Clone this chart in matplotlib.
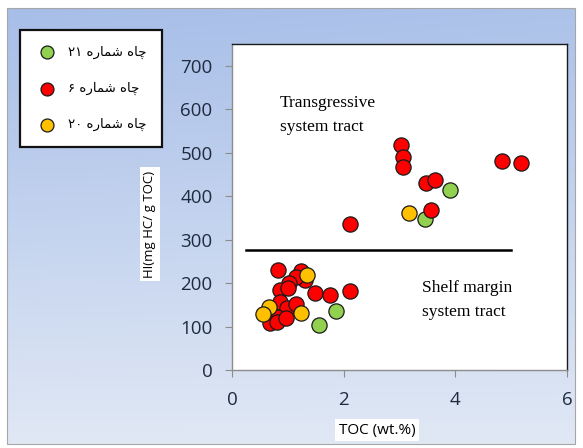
import numpy as np
import matplotlib
matplotlib.use("Agg")
import matplotlib.pyplot as plt
from matplotlib.patches import Rectangle

# ---- data -------------------------------------------------------------
well_names = ["چاه شماره ۲۱", "چاه شماره ۶", "چاه شماره ۲۰"]
well_colors = ["#92d050", "#ff0000", "#ffc000"]

toc_w21 = [3.91, 3.46, 1.86, 1.56]
hi_w21 = [413, 348, 136, 104]

toc_w6 = [3.03, 3.06, 3.07, 3.48, 3.63, 3.57, 2.12, 4.83, 5.18,
          0.82, 1.24, 1.30, 1.14, 1.02, 0.86, 1.01, 1.48, 1.75, 2.11,
          0.86, 0.98, 1.14, 0.80, 0.68, 0.80, 0.96]
hi_w6 = [518, 490, 467, 430, 438, 369, 336, 480, 476,
         230, 227, 208, 213, 200, 184, 188, 177, 173, 182,
         157, 142, 151, 123, 108, 111, 119]

toc_w20 = [3.17, 1.35, 0.67, 0.56, 1.24]
hi_w20 = [361, 219, 146, 128, 131]

boundary_hi = 275
boundary_toc = [0.25, 5.0]

x_ticks = [0, 2, 4, 6]
y_ticks = [0, 100, 200, 300, 400, 500, 600, 700]


# ---- minimal Arabic-script shaping for display --------------------------
FORMS = {  # isolated, final, initial, medial
    "ا": ("\uFE8D", "\uFE8E", None, None),
    "ر": ("\uFEAD", "\uFEAE", None, None),
    "ه": ("\uFEE9", "\uFEEA", "\uFEEB", "\uFEEC"),
    "ش": ("\uFEB5", "\uFEB6", "\uFEB7", "\uFEB8"),
    "م": ("\uFEE1", "\uFEE2", "\uFEE3", "\uFEE4"),
    "چ": ("\uFB7A", "\uFB7B", "\uFB7C", "\uFB7D"),
}


def shape_word(word):
    out = []
    for i, ch in enumerate(word):
        if ch not in FORMS:
            out.append(ch)
            continue
        prev_ch = word[i - 1] if i > 0 else None
        next_ch = word[i + 1] if i + 1 < len(word) else None
        j_prev = prev_ch in FORMS and FORMS[prev_ch][2] is not None
        j_next = next_ch in FORMS and FORMS[ch][2] is not None
        iso, fin, ini, med = FORMS[ch]
        if j_prev and j_next:
            out.append(med)
        elif j_prev:
            out.append(fin)
        elif j_next:
            out.append(ini)
        else:
            out.append(iso)
    return "".join(out)


def visual(text):
    tokens = text.split(" ")
    shown = []
    for t in tokens:
        if any(c in FORMS for c in t):
            shown.append(shape_word(t)[::-1])
        else:
            shown.append(t)
    return " ".join(shown[::-1])


# ---- figure -----------------------------------------------------------
W, H = 583, 448
fig = plt.figure(figsize=(W / 100, H / 100), dpi=100)

# background panel with a soft blue gradient
bg = fig.add_axes([0, 0, 1, 1], zorder=0)
bg.set_xlim(0, W)
bg.set_ylim(H, 0)
bg.axis("off")
top = np.array([0.655, 0.745, 0.910])
bot = np.array([0.880, 0.910, 0.960])
ny, nx = 200, 200
t = np.linspace(0, 1, ny)[:, None, None]
s = np.linspace(0, 1, nx)[None, :, None]
grad = top * (1 - t) + bot * t
grad = grad * (1 - 0.10 * s) + 0.10 * s * bot
grad = np.clip(grad, 0, 1)
bg.imshow(grad, extent=[7, 575, 444, 8], aspect="auto", zorder=0)
bg.add_patch(Rectangle((7, 8), 568, 436, fill=False, edgecolor="#a6a6a6",
                       linewidth=0.8, zorder=1))

ax = fig.add_axes([232 / W, 1 - 370 / H, (567 - 232) / W, (370 - 44) / H], zorder=2)
ax.set_facecolor("white")

mk = dict(s=120, edgecolors="#1a1a1a", linewidths=0.9, zorder=3)
h21 = ax.scatter(toc_w21, hi_w21, c=well_colors[0], **mk)
h6 = ax.scatter(toc_w6, hi_w6, c=well_colors[1], **mk)
h20 = ax.scatter(toc_w20, hi_w20, c=well_colors[2], **mk)

ax.plot(boundary_toc, [boundary_hi, boundary_hi], color="black", linewidth=1.8, zorder=2)

ax.text(0.86, 586, "Transgressive\nsystem tract", family="Liberation Serif",
        fontsize=12.5, va="center", ha="left", linespacing=1.7)
ax.text(3.41, 161, "Shelf margin\nsystem tract", family="Liberation Serif",
        fontsize=12.5, va="center", ha="left", linespacing=1.7)

ax.set_xlim(0, 6)
ax.set_ylim(0, 750)
ax.set_xticks(x_ticks)
ax.set_yticks(y_ticks)
tick_font = dict(family="Open Sans", size=13.5)
ax.set_xticklabels([str(v) for v in x_ticks], color="#1f2b3f", **tick_font)
ax.set_yticklabels([str(v) for v in y_ticks], color="#1f2b3f", **tick_font)
ax.tick_params(axis="both", direction="out", length=5, width=0.8, color="#8c8c8c")
ax.tick_params(axis="x", pad=10)
ax.tick_params(axis="y", pad=9)
for side in ["left", "bottom"]:
    ax.spines[side].set_color("#8c8c8c")
    ax.spines[side].set_linewidth(1.0)
for side in ["top", "right"]:
    ax.spines[side].set_color("#1a1a1a")
    ax.spines[side].set_linewidth(1.0)

lab_box = dict(boxstyle="square,pad=0.25", facecolor="white", edgecolor="none")
fig.text(377 / W, 1 - 430 / H, "TOC (wt.%)", family="Open Sans", fontsize=11,
         ha="center", va="center", bbox=lab_box)
fig.text(150 / W, 1 - 224 / H, "HI(mg HC/ g TOC)", family="Open Sans", fontsize=9.5,
         ha="center", va="center", rotation=90, bbox=lab_box)

leg = fig.legend([h21, h6, h20], [visual(n) for n in well_names],
                 loc="upper left", bbox_to_anchor=(20 / W, 1 - 30 / H),
                 bbox_transform=fig.transFigure, borderaxespad=0,
                 prop=dict(family="DejaVu Sans", size=9.5), labelspacing=1.75,
                 handletextpad=0.7, borderpad=1.2, handlelength=1.7,
                 markerscale=0.85,
                 fancybox=False, framealpha=1, edgecolor="#111111")
leg.get_frame().set_linewidth(1.6)
leg.set_zorder(5)

fig.savefig("out.png", dpi=100)
